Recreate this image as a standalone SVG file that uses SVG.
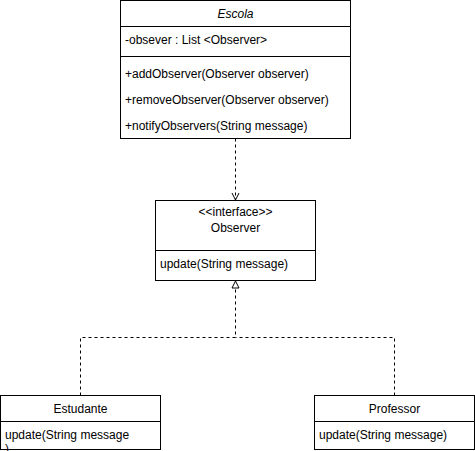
<svg xmlns="http://www.w3.org/2000/svg" width="475" height="451" viewBox="0 0 475 451">
<style>
.box{fill:#ffffff;stroke:#000000;stroke-width:1}
.ln{stroke:#000000;stroke-width:1;fill:none}
.t{font-family:"Liberation Sans",Arial,sans-serif;font-size:12px;fill:#000000}
.c{text-anchor:middle}
.dash{stroke:#000000;stroke-width:1;fill:none;stroke-dasharray:3 3}
</style>
<defs>
<marker id="open" markerWidth="10" markerHeight="10" refX="8" refY="5" orient="auto" markerUnits="userSpaceOnUse">
<path d="M1,1.5 L8,5 L1,8.5" fill="none" stroke="#000000" stroke-width="1"/>
</marker>
<marker id="tri" markerWidth="10" markerHeight="10" refX="8" refY="5" orient="auto" markerUnits="userSpaceOnUse">
<path d="M1,1.5 L8,5 L1,8.5 Z" fill="#ffffff" stroke="#000000" stroke-width="1"/>
</marker>
</defs>
<g id="connectors">
<path class="dash" d="M235.5,138.5 L235.5,200" marker-end="url(#open)"/>
<path class="dash" d="M80.5,395.5 L80.5,337.5 L235.5,337.5 L235.5,281" marker-end="url(#tri)"/>
<path class="dash" d="M394.5,395.5 L394.5,337.5 L235.5,337.5"/>
</g>
<g id="escola">
<rect class="box" x="120.5" y="0.5" width="230" height="138"/>
<line class="ln" x1="120.5" y1="26.5" x2="350.5" y2="26.5"/>
<line class="ln" x1="120.5" y1="56.5" x2="350.5" y2="56.5"/>
<text class="t c" x="235.5" y="18" font-style="italic">Escola</text>
<text class="t" x="125" y="44">-obsever : List &lt;Observer&gt;</text>
<text class="t" x="125" y="78">+addObserver(Observer observer)</text>
<text class="t" x="125" y="104">+removeObserver(Observer observer)</text>
<text class="t" x="125" y="130">+notifyObservers(String message)</text>
</g>
<g id="observer">
<rect class="box" x="155.5" y="200.5" width="160" height="80"/>
<line class="ln" x1="155.5" y1="250.5" x2="315.5" y2="250.5"/>
<text class="t c" x="235.5" y="216">&lt;&lt;interface&gt;&gt;</text>
<text class="t c" x="235.5" y="232">Observer</text>
<text class="t" x="160" y="268">update(String message)</text>
</g>
<g id="estudante">
<rect class="box" x="0.5" y="395.5" width="160" height="54"/>
<line class="ln" x1="0.5" y1="421.5" x2="160.5" y2="421.5"/>
<text class="t c" x="80.5" y="413">Estudante</text>
<text class="t" x="5" y="439">update(String message</text>
<text class="t" x="5" y="453">)</text>
</g>
<g id="professor">
<rect class="box" x="314.5" y="395.5" width="160" height="54"/>
<line class="ln" x1="314.5" y1="421.5" x2="474.5" y2="421.5"/>
<text class="t c" x="394.5" y="413">Professor</text>
<text class="t" x="319" y="439">update(String message)</text>
</g>
</svg>
